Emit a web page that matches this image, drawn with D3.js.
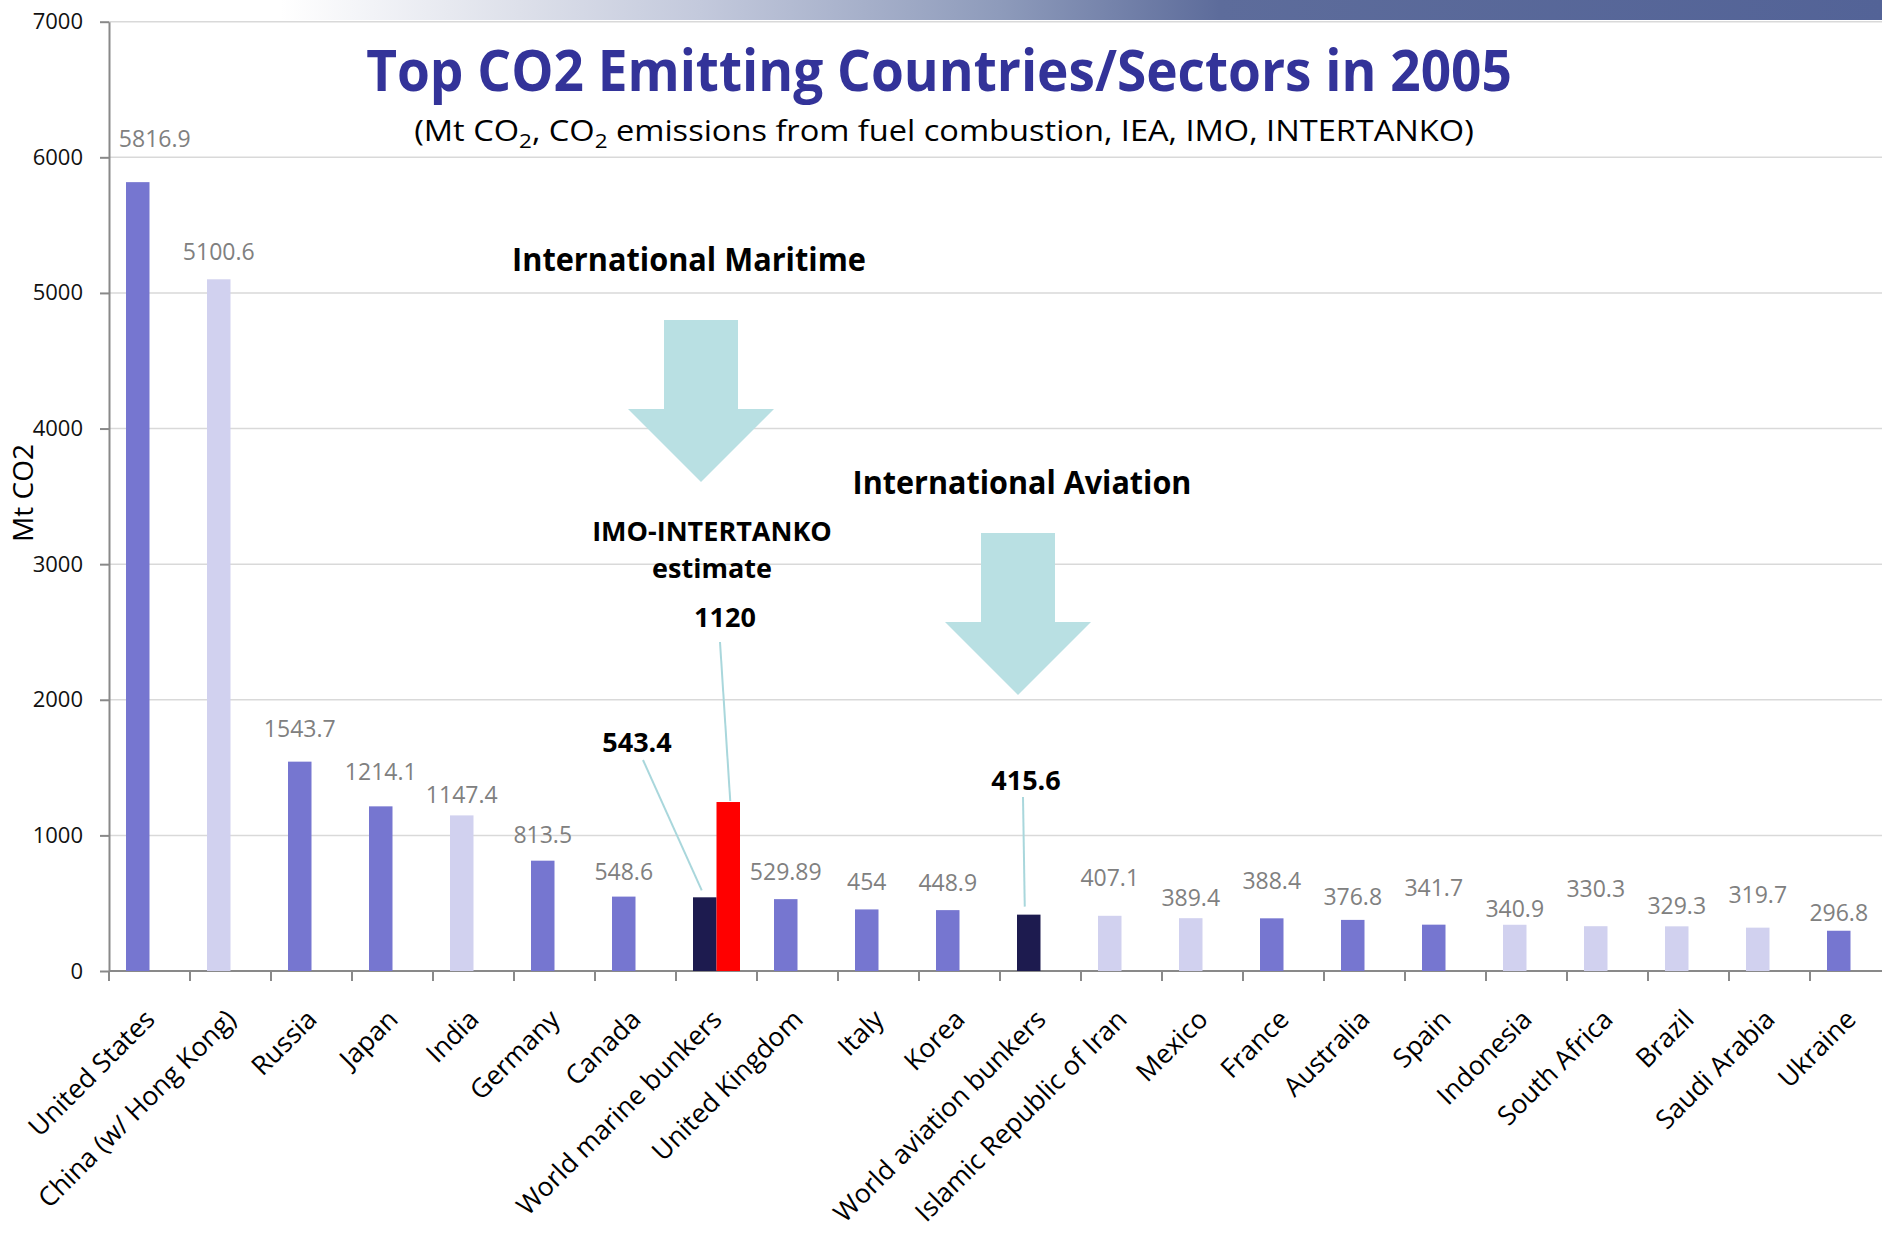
<!DOCTYPE html>
<html>
<head>
<meta charset="utf-8">
<script src="https://cdnjs.cloudflare.com/ajax/libs/d3/7.8.5/d3.min.js"></script>
<style>
  body { margin: 0; background: #ffffff; }
  svg { display: block; font-family: "Open Sans", sans-serif; }
</style>
</head>
<body>
<div id="chart"></div>
<script>
var countries = ["United States", "China (w/ Hong Kong)", "Russia", "Japan", "India", "Germany", "Canada",
  "World marine bunkers", "United Kingdom", "Italy", "Korea", "World aviation bunkers", "Islamic Republic of Iran",
  "Mexico", "France", "Australia", "Spain", "Indonesia", "South Africa", "Brazil", "Saudi Arabia", "Ukraine"];
var emissions = [5816.9, 5100.6, 1543.7, 1214.1, 1147.4, 813.5, 548.6, 543.4, 529.89, 454, 448.9, 415.6,
  407.1, 389.4, 388.4, 376.8, 341.7, 340.9, 330.3, 329.3, 319.7, 296.8];
var groups = ["annex", "other", "annex", "annex", "other", "annex", "annex", "bunker", "annex", "annex", "annex",
  "bunker", "other", "other", "annex", "annex", "annex", "other", "other", "other", "other", "annex"];
var estimateCategory = "World marine bunkers";
var estimateValue = 1246;
var estimateText = "1120";
var yTicks = [0, 1000, 2000, 3000, 4000, 5000, 6000, 7000];

// how far each grey value label sits above its bar (px)
var labelLift = [35, 19, 25, 26, 12, 18, 17, 0, 19, 19, 19, 0, 30, 12, 29, 15, 29, 8, 29, 12, 25, 10];

var colors = { annex: "#7676d0", other: "#d1d1ef", bunker: "#1d1b4f", estimate: "#ff0000" };

var svgWidth = 1882;
var svgHeight = 1234;

var svg = d3.select("#chart")
  .append("svg")
  .attr("width", svgWidth)
  .attr("height", svgHeight);

// top banner of the slide
var grad = svg.append("defs").append("linearGradient")
  .attr("id", "banner")
  .attr("gradientUnits", "userSpaceOnUse")
  .attr("x1", 0).attr("x2", svgWidth).attr("y1", 0).attr("y2", 0);
[[0, "#ffffff"], [0.149, "#ffffff"], [0.276, "#dde0ea"], [0.372, "#c3c9dc"], [0.531, "#8e9bbb"],
 [0.648, "#5d6c9b"], [1, "#536397"]].forEach(function(s) {
  grad.append("stop").attr("offset", s[0]).attr("stop-color", s[1]);
});
svg.append("rect")
  .attr("x", 0).attr("y", 0)
  .attr("width", svgWidth).attr("height", 20)
  .attr("fill", "url(#banner)");

var x = d3.scaleBand()
  .domain(countries)
  .range([109, 1891])
  .padding(0);

var series = d3.scaleBand()
  .domain(["iea", "estimate"])
  .range([x.bandwidth() / 2 - 23.5, x.bandwidth() / 2 + 23.5]);

var y = d3.scaleLinear()
  .domain([0, 7000])
  .range([971, 21.7]);

// gridlines
svg.append("g")
  .selectAll("line")
  .data(yTicks.filter(d => d > 0))
  .enter()
  .append("line")
  .attr("x1", 109)
  .attr("x2", svgWidth)
  .attr("y1", d => y(d))
  .attr("y2", d => y(d))
  .attr("stroke", "#d9d9d9")
  .attr("stroke-width", 1.5);

var leftAxis = d3.axisLeft(y)
  .tickValues(yTicks)
  .tickFormat(d3.format("d"))
  .tickSize(9)
  .tickSizeOuter(0)
  .tickPadding(17);

var yAxis = svg.append("g")
  .attr("transform", "translate(109,0)")
  .call(leftAxis);
yAxis.select(".domain").attr("stroke", "#898989").attr("stroke-width", 2);
yAxis.selectAll(".tick line").attr("stroke", "#898989").attr("stroke-width", 2);
yAxis.selectAll(".tick text")
  .attr("font-family", "Open Sans")
  .attr("font-size", 22)
  .attr("fill", "#111111");

var data = countries.map(function(c, i) {
  return { name: c, value: emissions[i], group: groups[i], lift: labelLift[i] };
});

// category boundary ticks on the x axis
var bounds = countries.map(c => x(c)).concat([x(countries[countries.length - 1]) + x.bandwidth()]);
svg.append("g")
  .selectAll("line")
  .data(bounds)
  .enter()
  .append("line")
  .attr("x1", d => d).attr("x2", d => d)
  .attr("y1", 971).attr("y2", 981)
  .attr("stroke", "#898989")
  .attr("stroke-width", 2);

svg.append("line")
  .attr("x1", 109).attr("x2", svgWidth)
  .attr("y1", 971).attr("y2", 971)
  .attr("stroke", "#898989")
  .attr("stroke-width", 2);

var barsGroup = svg.append("g");

barsGroup.selectAll("rect.main")
  .data(data)
  .enter()
  .append("rect")
  .attr("class", "main")
  .attr("x", d => x(d.name) + series("iea"))
  .attr("y", d => y(d.value))
  .attr("width", series.bandwidth())
  .attr("height", d => y(0) - y(d.value))
  .attr("fill", d => colors[d.group]);

barsGroup.append("rect")
  .attr("x", x(estimateCategory) + series("estimate"))
  .attr("y", y(estimateValue))
  .attr("width", series.bandwidth())
  .attr("height", y(0) - y(estimateValue))
  .attr("fill", colors.estimate);

// grey value labels
svg.append("g")
  .selectAll("text")
  .data(data.filter(d => d.group !== "bunker"))
  .enter()
  .append("text")
  .attr("x", d => x(d.name) + series("iea") + series.bandwidth() / 2 + (d.name === "United States" ? 17 : 0))
  .attr("y", d => y(d.value) - d.lift)
  .attr("text-anchor", "middle")
  .attr("font-size", 23)
  .attr("fill", "#808080")
  .text(d => String(d.value));

// category labels
svg.append("g")
  .selectAll("text")
  .data(countries)
  .enter()
  .append("text")
  .attr("transform", d => `translate(${x(d) + x.bandwidth() / 2 + 7}, 1021) rotate(-45)`)
  .attr("text-anchor", "end")
  .attr("font-size", 26.5)
  .attr("fill", "#000000")
  .text(d => d);

svg.append("text")
  .attr("transform", "translate(33, 493) rotate(-90)")
  .attr("text-anchor", "middle")
  .attr("font-size", 28)
  .attr("fill", "#000000")
  .text("Mt CO2");

function fitWidth(sel, cx, target) {
  var w = sel.node().getBBox().width;
  var s = target / w;
  sel.attr("transform", `translate(${cx},0) scale(${s},1) translate(${-cx},0)`);
}

var title = svg.append("text")
  .attr("x", 939)
  .attr("y", 91)
  .attr("text-anchor", "middle")
  .attr("font-size", 58)
  .attr("font-weight", "bold")
  .attr("fill", "#333399")
  .text("Top CO2 Emitting Countries/Sectors in 2005");
fitWidth(title, 939, 1146);

var subtitle = svg.append("text")
  .attr("x", 944)
  .attr("y", 141)
  .attr("text-anchor", "middle")
  .attr("font-size", 29)
  .attr("fill", "#000000");
subtitle.append("tspan").text("(Mt CO");
subtitle.append("tspan").attr("dy", 7).attr("font-size", 20).text("2");
subtitle.append("tspan").attr("dy", -7).text(", CO");
subtitle.append("tspan").attr("dy", 7).attr("font-size", 20).text("2");
subtitle.append("tspan").attr("dy", -7).text(" emissions from fuel combustion, IEA, IMO, INTERTANKO)");
fitWidth(subtitle, 944, 1060);

// arrows and headings for the two bunker sectors
var arrows = [
  { heading: "International Maritime", hx: 689, hy: 271, hw: 354, cx: 701, top: 320, neck: 409, tip: 482 },
  { heading: "International Aviation", hx: 1022, hy: 494, hw: 339, cx: 1018, top: 533, neck: 622, tip: 695 }
];

arrows.forEach(function(a) {
  var pts = [[a.cx - 37, a.top], [a.cx + 37, a.top], [a.cx + 37, a.neck], [a.cx + 73, a.neck],
    [a.cx, a.tip], [a.cx - 73, a.neck], [a.cx - 37, a.neck]];
  svg.append("path")
    .attr("d", d3.line()(pts) + "Z")
    .attr("fill", "#b9e0e3");
  var h = svg.append("text")
    .attr("x", a.hx)
    .attr("y", a.hy)
    .attr("text-anchor", "middle")
    .attr("font-size", 32)
    .attr("font-weight", "bold")
    .attr("fill", "#000000")
    .text(a.heading);
  fitWidth(h, a.hx, a.hw);
});

svg.append("text")
  .attr("x", 712).attr("y", 541)
  .attr("text-anchor", "middle")
  .attr("font-size", 27)
  .attr("font-weight", "bold")
  .text("IMO-INTERTANKO");
svg.append("text")
  .attr("x", 712).attr("y", 578)
  .attr("text-anchor", "middle")
  .attr("font-size", 27)
  .attr("font-weight", "bold")
  .text("estimate");

// bold callouts with leader lines
var callouts = [
  { text: String(emissions[7]), cat: "World marine bunkers", s: "iea", v: emissions[7], tx: 637, ty: 752, lx: 643, ly: 760, dx: -3, gap: 7 },
  { text: estimateText, cat: estimateCategory, s: "estimate", v: estimateValue, tx: 725, ty: 627, lx: 720, ly: 642, dx: 2, gap: 1 },
  { text: String(emissions[11]), cat: "World aviation bunkers", s: "iea", v: emissions[11], tx: 1026, ty: 790, lx: 1023, ly: 797, dx: -4, gap: 8 }
];

callouts.forEach(function(c) {
  var bx = x(c.cat) + series(c.s) + series.bandwidth() / 2 + c.dx;
  svg.append("line")
    .attr("x1", c.lx).attr("y1", c.ly)
    .attr("x2", bx).attr("y2", y(c.v) - c.gap)
    .attr("stroke", "#a9d7dc")
    .attr("stroke-width", 2);
  svg.append("text")
    .attr("x", c.tx).attr("y", c.ty)
    .attr("text-anchor", "middle")
    .attr("font-size", 27)
    .attr("font-weight", "bold")
    .attr("fill", "#000000")
    .text(c.text);
});
</script>
</body>
</html>
